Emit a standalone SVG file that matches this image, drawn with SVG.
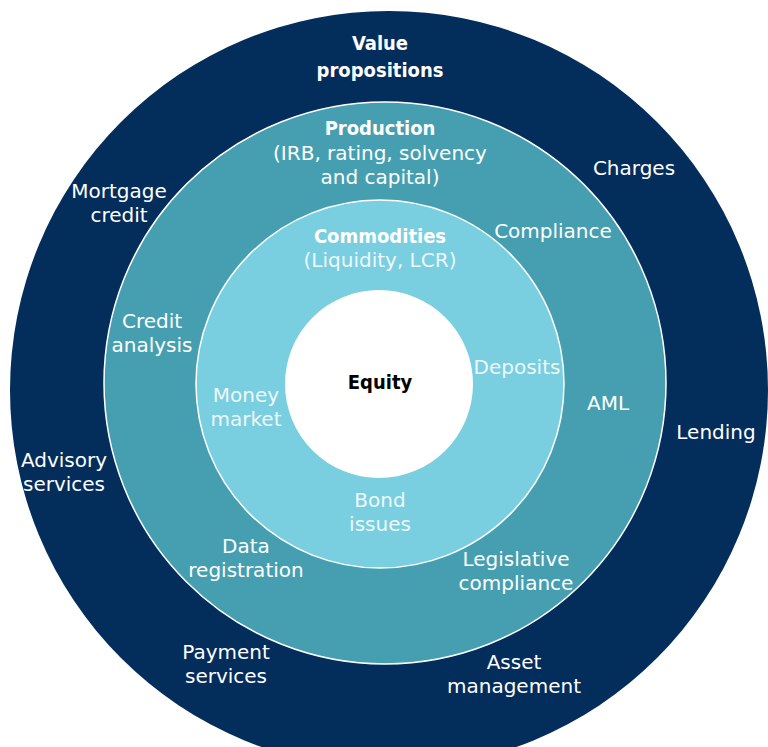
<svg xmlns="http://www.w3.org/2000/svg" width="768" height="747" viewBox="0 0 768 747">
<style>
text{font-family:"DejaVu Sans","Noto Sans","Liberation Sans",sans-serif;font-size:20px;fill:#ffffff;text-anchor:middle}
.b{font-family:"DejaVu Sans Condensed","DejaVu Sans",sans-serif;font-stretch:condensed;font-weight:bold;font-size:20px}
.l{fill:#eef8fb}
</style>
<rect width="768" height="747" fill="#ffffff"/>
<g id="value-propositions">
<circle cx="389" cy="390" r="379" fill="#032D5B"/>
<text class="b" x="380" y="50">Value<tspan x="380" dy="27">propositions</tspan></text>
<text x="634" y="175">Charges</text>
<text x="119" y="198">Mortgage<tspan x="119" dy="24">credit</tspan></text>
<text x="716" y="439">Lending</text>
<text x="64" y="467">Advisory<tspan x="64" dy="24">services</tspan></text>
<text x="226" y="659">Payment<tspan x="226" dy="24">services</tspan></text>
<text x="514" y="669">Asset<tspan x="514" dy="24">management</tspan></text>
</g>
<g id="production">
<circle cx="385" cy="383" r="281" fill="#469FB0" stroke="#ffffff" stroke-width="1.5"/>
<text class="b" x="380" y="135">Production</text>
<text x="380" y="160">(IRB, rating, solvency<tspan x="380" dy="24">and capital)</tspan></text>
<text x="553" y="238">Compliance</text>
<text x="152" y="328">Credit<tspan x="152" dy="24">analysis</tspan></text>
<text x="608" y="410">AML</text>
<text x="246" y="553">Data<tspan x="246" dy="24">registration</tspan></text>
<text x="516" y="566">Legislative<tspan x="516" dy="24">compliance</tspan></text>
</g>
<g id="commodities">
<circle cx="380" cy="384" r="184" fill="#79CFE0" stroke="#ffffff" stroke-width="1.5"/>
<text class="b" x="380" y="243">Commodities</text>
<text class="l" x="380" y="267">(Liquidity, LCR)</text>
<text class="l" x="517" y="374">Deposits</text>
<text class="l" x="246" y="402">Money<tspan x="246" dy="24">market</tspan></text>
<text class="l" x="380" y="507">Bond<tspan x="380" dy="24">issues</tspan></text>
</g>
<g id="equity">
<circle cx="379" cy="384" r="94" fill="#ffffff"/>
<text class="b" x="380" y="389" style="fill:#000000">Equity</text>
</g>
<g id="connectors"/>
</svg>
